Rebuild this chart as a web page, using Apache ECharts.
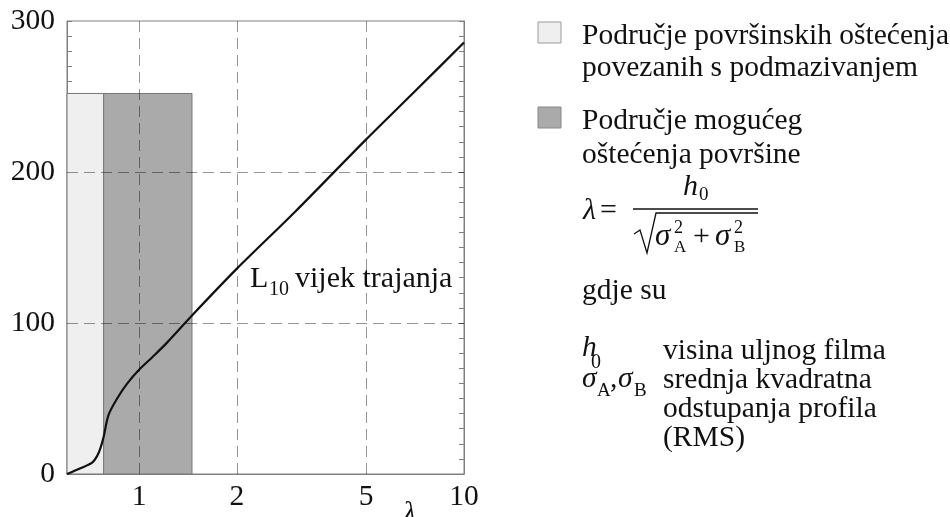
<!DOCTYPE html>
<html>
<head>
<meta charset="utf-8">
<script src="https://cdn.jsdelivr.net/npm/echarts@6/dist/echarts.min.js"></script>
<style>
  html, body { margin: 0; padding: 0; background: #ffffff; }
  #chart { width: 950px; height: 517px; }
</style>
</head>
<body>
<div id="chart"></div>
<script>
// L10 life as a function of the film thickness ratio λ
const lambdaValues = [0.6, 0.66, 0.717, 0.743, 0.761, 0.778, 0.805, 0.856, 0.92, 1.0, 1.1, 1.219, 1.455, 2.0, 3.0, 5.0, 7.0, 10.0];
const lifeValues   = [0, 3.8, 7.5, 12, 17.3, 24.6, 39, 50, 60, 69, 77.5, 87, 105, 136, 173, 221.6, 252.6, 285.8];

// shaded regions: [λ from, λ to, upper bound]
const regionNames  = ['Područje površinskih oštećenja povezanih s podmazivanjem', 'Područje mogućeg oštećenja površine'];
const regionBounds = [[0.6, 0.778, 252], [0.778, 1.455, 252]];
const regionFills  = ['#efefef', '#aaaaaa'];

// axis labels and dashed reference lines
const xTickValues = [1, 2, 5, 10];
const yTickValues = [0, 100, 200, 300];
const xGridValues = [1, 2, 5];
const yGridValues = [100, 200];

const SERIF = '"Liberation Serif", "Times New Roman", serif';
const INK = '#111111';

const chart = echarts.init(document.getElementById('chart'), null, { renderer: 'canvas' });

// text placed by its baseline (middle of the em box sits ~0.34em above it)
function txt(x, baseline, text, size, extra) {
  return {
    type: 'text', x: x, y: baseline - 0.34 * size, silent: true,
    style: Object.assign({
      text: text, fill: INK, font: size + 'px ' + SERIF,
      verticalAlign: 'middle', align: 'left'
    }, (extra || {}))
  };
}
function itxt(x, baseline, text, size) {
  return txt(x, baseline, text, size, { font: 'italic ' + size + 'px ' + SERIF });
}

const FS = 29.5;
const graphics = [
  // legend
  { type: 'rect', shape: { x: 538, y: 22, width: 23, height: 21 }, style: { fill: regionFills[0], stroke: '#9a9a9a', lineWidth: 1 }, silent: true },
  txt(582, 46, 'Područje površinskih oštećenja', FS),
  txt(582, 78, 'povezanih s podmazivanjem', FS),
  { type: 'rect', shape: { x: 538, y: 107, width: 23, height: 21 }, style: { fill: regionFills[1], stroke: '#888888', lineWidth: 1 }, silent: true },
  txt(582, 131, 'Područje mogućeg', FS),
  txt(582, 165, 'oštećenja površine', FS),

  // λ = h0 / sqrt(σA² + σB²)
  itxt(583, 221, 'λ', 30),
  txt(600, 221, '=', 30),
  { type: 'line', shape: { x1: 633, y1: 209, x2: 758, y2: 209 }, style: { stroke: INK, lineWidth: 1.3 }, silent: true },
  itxt(683, 197, 'h', 30),
  txt(699, 201, '0', 19),
  { type: 'polyline', shape: { points: [[634, 234], [640, 230], [647, 253], [656, 213], [758, 213]] }, style: { stroke: INK, lineWidth: 1.3, fill: null }, silent: true },
  itxt(655, 247, 'σ', 31),
  txt(674, 234, '2', 18),
  txt(674, 253, 'A', 17),
  txt(693, 247, '+', 30),
  itxt(715, 247, 'σ', 31),
  txt(734, 234, '2', 18),
  txt(734, 253, 'B', 17),

  // symbol key
  txt(582, 301, 'gdje su', FS),
  itxt(582, 358, 'h', FS),
  txt(591, 370, '0', 20),
  txt(663, 361, 'visina uljnog filma', FS),
  itxt(582, 389, 'σ', FS),
  txt(597, 397, 'A', 19),
  txt(610, 389, ',', FS),
  itxt(618, 389, 'σ', FS),
  txt(634, 397, 'B', 19),
  txt(663, 390, 'srednja kvadratna', FS),
  txt(663, 419, 'odstupanja profila', FS),
  txt(663, 448, '(RMS)', FS),

  // curve label and axis symbol
  txt(250, 289, 'L', 30),
  txt(269, 297, '10', 20),
  txt(295, 289, 'vijek trajanja', 30),
  itxt(403, 524, 'λ', 30)
];

const option = {
  backgroundColor: '#ffffff',
  animation: false,
  grid: {
    left: 67, right: 486, top: 21, bottom: 43,
    show: true, borderColor: '#808080', borderWidth: 1, backgroundColor: 'transparent'
  },
  xAxis: {
    type: 'log', logBase: 10, min: 0.6, max: 10,
    axisLine: { show: true, lineStyle: { color: '#808080', width: 1 } },
    axisTick: { show: false },
    splitLine: { show: false },
    minorTick: { show: false },
    axisLabel: {
      customValues: xTickValues,
      color: INK, fontFamily: SERIF, fontSize: FS, margin: 8,
      formatter: function (v) { return String(Math.round(v)); }
    }
  },
  yAxis: [{
    type: 'value', min: 0, max: 300, interval: 100,
    axisLine: { show: true, lineStyle: { color: '#808080', width: 1 } },
    axisTick: { show: true, inside: true, length: 5, lineStyle: { color: '#808080' } },
    minorTick: { show: true, splitNumber: 10, length: 5, lineStyle: { color: '#808080' } },
    splitLine: { show: false },
    axisLabel: {
      customValues: yTickValues,
      color: INK, fontFamily: SERIF, fontSize: FS, margin: 12
    }
  }, {
    type: 'value', min: 0, max: 300, interval: 100, position: 'right',
    axisLine: { show: true, lineStyle: { color: '#808080', width: 1 } },
    axisTick: { show: true, inside: true, length: 5, lineStyle: { color: '#808080' } },
    minorTick: { show: true, splitNumber: 10, length: 5, lineStyle: { color: '#808080' } },
    splitLine: { show: false },
    axisLabel: { show: false }
  }],
  series: [
    {
      name: 'regions',
      type: 'custom',
      silent: true,
      encode: { x: [0, 1], y: 2 },
      data: regionBounds.map(function (b, i) { return { value: b, name: regionNames[i] }; }),
      renderItem: function (params, api) {
        const topLeft = api.coord([api.value(0), api.value(2)]);
        const bottomRight = api.coord([api.value(1), 0]);
        return {
          type: 'rect',
          shape: {
            x: topLeft[0], y: topLeft[1],
            width: bottomRight[0] - topLeft[0], height: bottomRight[1] - topLeft[1]
          },
          style: {
            fill: regionFills[params.dataIndex],
            stroke: '#777777', lineWidth: 1
          }
        };
      }
    },
    {
      name: 'L10 vijek trajanja',
      type: 'line',
      data: lambdaValues.map(function (x, i) { return [x, lifeValues[i]]; }),
      smooth: 0.3,
      showSymbol: false,
      silent: true,
      lineStyle: { color: INK, width: 2.2 },
      markLine: {
        silent: true,
        symbol: 'none',
        label: { show: false },
        lineStyle: { color: 'rgba(0,0,0,0.42)', type: [11, 6], width: 1 },
        data: xGridValues.map(function (v) { return { xAxis: v }; })
          .concat(yGridValues.map(function (v) { return { yAxis: v }; }))
      },
      z: 3
    }
  ],
  graphic: graphics
};

chart.setOption(option);
</script>
</body>
</html>
